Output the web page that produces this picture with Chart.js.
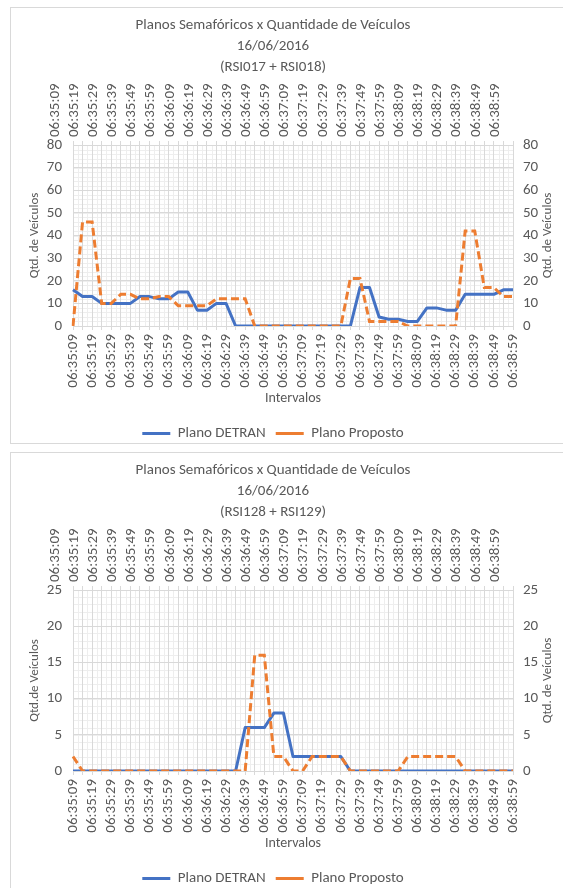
<!DOCTYPE html>
<html>
<head>
<meta charset="utf-8">
<script src="https://cdn.jsdelivr.net/npm/chart.js@4/dist/chart.umd.min.js"></script>
<style>
html, body { margin: 0; padding: 0; background: #fff; overflow: hidden; }
body { width: 563px; height: 888px; position: relative; }
.caixa { position: absolute; left: 10px; width: 580px; height: 437px; border: 1px solid #d9d9d9; box-sizing: border-box; }
.caixa canvas { position: absolute; left: -28px; top: 0; }
</style>
</head>
<body>
<div class="caixa" style="top:7px"><canvas id="grafico1" width="580" height="443"></canvas></div>
<div class="caixa" style="top:452px"><canvas id="grafico2" width="580" height="443"></canvas></div>
<script>
// Intervalos de 5 s (rótulo a cada 10 s)
const horarios = [
    '06:35:09','06:35:14','06:35:19','06:35:24','06:35:29','06:35:34','06:35:39','06:35:44','06:35:49','06:35:54','06:35:59',
    '06:36:04','06:36:09','06:36:14','06:36:19','06:36:24','06:36:29','06:36:34','06:36:39','06:36:44','06:36:49','06:36:54','06:36:59',
    '06:37:04','06:37:09','06:37:14','06:37:19','06:37:24','06:37:29','06:37:34','06:37:39','06:37:44','06:37:49','06:37:54','06:37:59',
    '06:38:04','06:38:09','06:38:14','06:38:19','06:38:24','06:38:29','06:38:34','06:38:39','06:38:44','06:38:49','06:38:54','06:38:59'
];

// RSI017 + RSI018
const detran1 = [16,13,13,10,10,10,10,13,13,12,12,15,15,7,7,10,10,0,0,0,0,0,0,0,0,0,0,0,0,0,17,17,4,3,3,2,2,8,8,7,7,14,14,14,14,16,16];
const proposto1 = [0,46,46,10,10,14,14,12,12,13,13,9,9,9,9,12,12,12,12,0,0,0,0,0,0,0,0,0,0,21,21,2,2,2,2,0,0,0,0,0,0,42,42,17,17,13,13];

// RSI128 + RSI129
const detran2 = [0,0,0,0,0,0,0,0,0,0,0,0,0,0,0,0,0,0,6,6,6,8,8,2,2,2,2,2,2,0,0,0,0,0,0,0,0,0,0,0,0,0,0,0,0,0,0];
const proposto2 = [2,0,0,0,0,0,0,0,0,0,0,0,0,0,0,0,0,0,0,16,16,2,2,0,0,2,2,2,2,0,0,0,0,0,0,2,2,2,2,2,2,0,0,0,0,0,0];

const cinza = '#595959';
const linhaGrade = '#d9d9d9';
Chart.defaults.font.family = 'Carlito, Calibri, Lato, sans-serif';
Chart.defaults.color = cinza;

// Linhas de grade secundárias
const gradeMenor = {
    id: 'gradeMenor',
    beforeDraw(chart, args, opts) {
        const { ctx, chartArea: a, scales: { x, y } } = chart;
        ctx.save();
        ctx.strokeStyle = '#eeeeee';
        ctx.lineWidth = 1;
        ctx.beginPath();
        for (let i = 0; i < x.ticks.length - 1; i++) {
            const px = Math.round((x.getPixelForTick(i) + x.getPixelForTick(i + 1)) / 2) + 0.5;
            ctx.moveTo(px, a.top);
            ctx.lineTo(px, a.bottom);
        }
        for (let v = y.min; v <= y.max; v += opts.passo) {
            const py = Math.round(y.getPixelForValue(v)) + 0.5;
            ctx.moveTo(a.left, py);
            ctx.lineTo(a.right, py);
        }
        ctx.stroke();
        ctx.restore();
    }
};

// Título do eixo direito lido de baixo para cima (como no Excel)
const tituloDireito = {
    id: 'tituloDireito',
    afterDraw(chart, args, opts) {
        const { ctx, chartArea: a, scales: { y2 } } = chart;
        ctx.save();
        ctx.translate(y2.right - 15, (a.top + a.bottom) / 2);
        ctx.rotate(-Math.PI / 2);
        ctx.font = '13px Carlito, Calibri, Lato, sans-serif';
        ctx.fillStyle = cinza;
        ctx.textAlign = 'center';
        ctx.textBaseline = 'middle';
        ctx.fillText(opts.texto, 0, 0);
        ctx.restore();
    }
};

function rotulo(val, i) {
    return i % 2 === 0 ? this.getLabelForValue(val) : '';
}

function criarGrafico(id, rsi, detran, proposto, maxY, passo, passoMenor, tituloEsq) {
    const fonteTick = { size: 15 };
    new Chart(document.getElementById(id), {
        type: 'line',
        data: {
            labels: horarios,
            datasets: [
                { label: 'Plano DETRAN', data: detran, borderColor: '#4472C4', backgroundColor: '#4472C4',
                  borderWidth: 3, pointRadius: 0, tension: 0, borderJoinStyle: 'round', order: 2 },
                { label: 'Plano Proposto', data: proposto, borderColor: '#ED7D31', backgroundColor: '#ED7D31',
                  borderWidth: 3, borderDash: [8, 4], pointRadius: 0, tension: 0, order: 1 }
            ]
        },
        options: {
            responsive: false,
            animation: false,
            devicePixelRatio: 1,
            layout: { padding: 0 },
            scales: {
                x: {
                    position: 'bottom', offset: false,
                    grid: { color: linhaGrade, tickLength: 4, tickColor: linhaGrade },
                    border: { color: linhaGrade },
                    ticks: { autoSkip: false, minRotation: 90, maxRotation: 90, padding: 4, color: cinza, font: fonteTick, callback: rotulo },
                    title: { display: true, text: 'Intervalos', color: cinza, font: { size: 14 }, padding: { top: 0, bottom: 9.5 } },
                    afterFit: s => { s.height = 90; }
                },
                x2: {
                    position: 'top', offset: false,
                    grid: { drawOnChartArea: false, color: linhaGrade, tickLength: 4 },
                    border: { display: false },
                    ticks: { autoSkip: false, minRotation: 90, maxRotation: 90, padding: 4, color: cinza, font: fonteTick, callback: rotulo },
                    afterFit: s => { s.height = 67.5; }
                },
                y: {
                    position: 'left', min: 0, max: maxY,
                    ticks: { stepSize: passo, padding: 11, color: cinza, font: { size: 15 } },
                    grid: { color: linhaGrade, drawTicks: false },
                    border: { display: false },
                    title: { display: true, text: tituloEsq, color: cinza, font: { size: 13 }, padding: { top: 44, bottom: 0 } },
                    afterFit: s => { s.width = 90; }
                },
                y2: {
                    position: 'right', min: 0, max: maxY,
                    ticks: { stepSize: passo, padding: 10, color: cinza, font: { size: 15 } },
                    grid: { drawOnChartArea: false, drawTicks: false },
                    border: { display: false },
                    afterFit: s => { s.width = 50; }
                }
            },
            plugins: {
                gradeMenor: { passo: passoMenor },
                tituloDireito: { texto: 'Qtd. de Veículos' },
                title: {
                    display: true,
                    text: ['Planos Semafóricos x Quantidade de Veículos', '16/06/2016', rsi],
                    color: cinza,
                    font: { size: 15, weight: 'normal', lineHeight: 1.4 },
                    padding: { top: 6.5, bottom: 0 }
                },
                legend: {
                    position: 'bottom',
                    labels: {
                        usePointStyle: true, pointStyle: 'line', pointStyleWidth: 28,
                        color: cinza, font: { size: 15 }, padding: 10,
                        sort: (a, b) => a.datasetIndex - b.datasetIndex
                    }
                },
                tooltip: { enabled: false }
            }
        },
        plugins: [gradeMenor, tituloDireito]
    });
}

criarGrafico('grafico1', '(RSI017 + RSI018)', detran1, proposto1, 80, 10, 2, 'Qtd. de Veículos');
criarGrafico('grafico2', '(RSI128 + RSI129)', detran2, proposto2, 25, 5, 1, 'Qtd.de Veículos');
</script>
</body>
</html>
